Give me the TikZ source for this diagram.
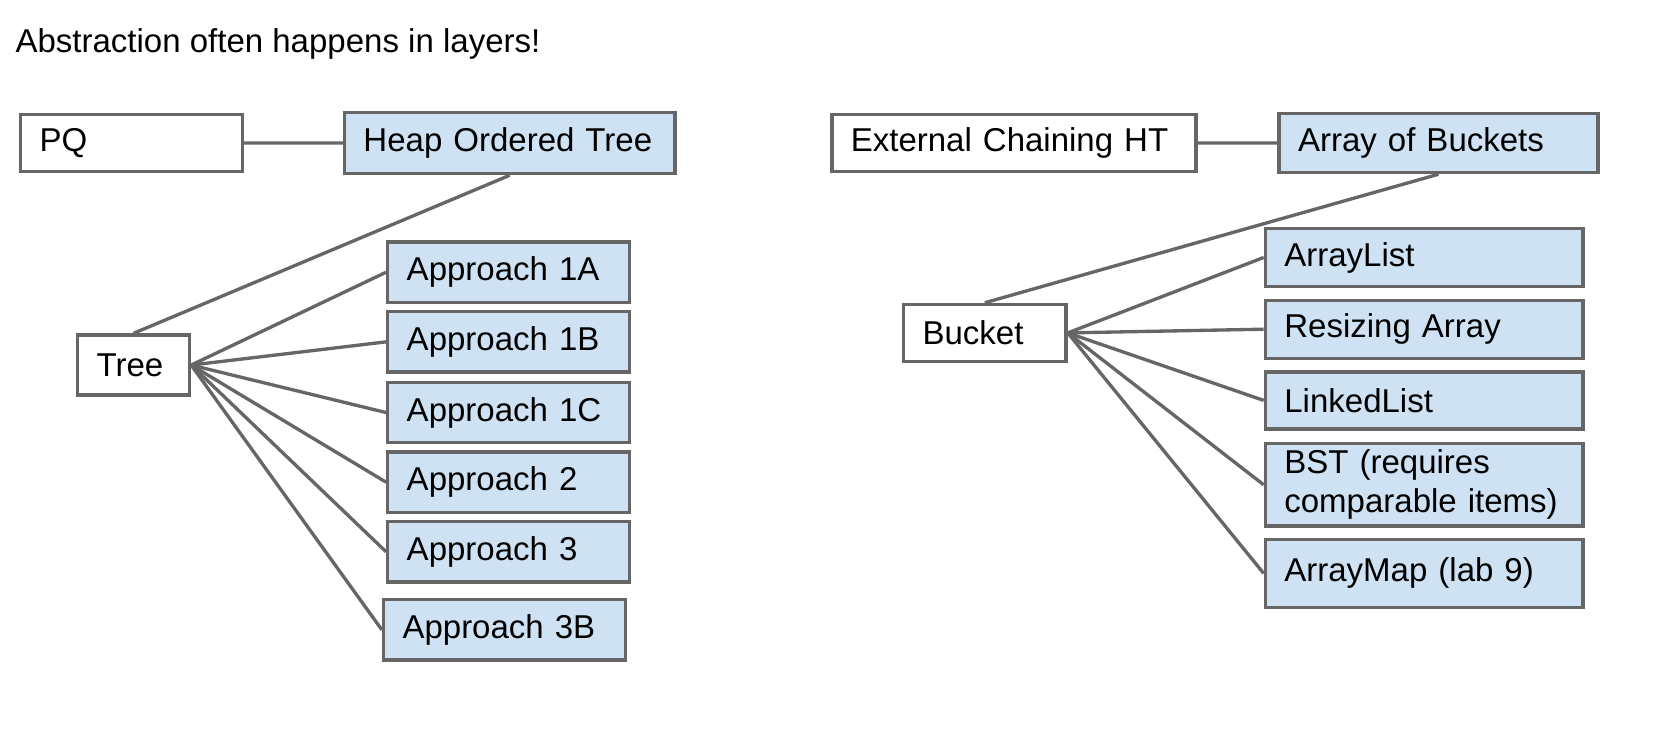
\documentclass[tikz,border=0pt]{standalone}
\usepackage{fontspec}
\setmainfont{Liberation Sans}
\usepackage{tikz}
\definecolor{boxline}{HTML}{666666}
\definecolor{implfill}{HTML}{CFE2F3}

\begin{document}
\begin{tikzpicture}[x=0.01cm, y=-0.01cm,
		adtbox/.style={draw=boxline, line width=0.9pt, fill=white, anchor=north west,
			inner xsep=0.18cm, inner ysep=0pt, align=left,
			font=\fontsize{8.9}{10.5}\selectfont},
		implbox/.style={adtbox, fill=implfill},
		link/.style={draw=boxline, line width=0.9pt}]
		\useasboundingbox (0,0) rectangle (1568,707);

		% Title
		\node[anchor=base west, inner sep=0pt, font=\fontsize{8.9}{10.5}\selectfont] (title) at (14,50) {Abstraction often happens in layers!};

		% Priority queue side
		\node[adtbox, text width=1.74cm, minimum height=0.54cm] (pq) at (18,107) {PQ};
		\node[implbox, text width=2.77cm, minimum height=0.58cm] (hot) at (325,105) {Heap Ordered Tree};
		\node[adtbox, text width=0.70cm, minimum height=0.57cm] (tree) at (72,316) {Tree};

		\node[implbox, text width=1.93cm, minimum height=0.57cm] (a1a) at (366,228) {Approach 1A};
		\node[implbox, text width=1.93cm, minimum height=0.57cm] (a1b) at (366,294) {Approach 1B};
		\node[implbox, text width=1.93cm, minimum height=0.57cm] (a1c) at (366,361) {Approach 1C};
		\node[implbox, text width=1.93cm, minimum height=0.57cm] (a2) at (366,427) {Approach 2};
		\node[implbox, text width=1.93cm, minimum height=0.57cm] (a3) at (366,493) {Approach 3};
		\node[implbox, text width=1.93cm, minimum height=0.57cm] (a3b) at (362,567) {Approach 3B};

		% Hash table side
		\node[adtbox, text width=3.09cm, minimum height=0.54cm] (echt) at (787,107) {External Chaining HT};
		\node[implbox, text width=2.66cm, minimum height=0.56cm] (aob) at (1211,106) {Array of Buckets};
		\node[adtbox, text width=1.18cm, minimum height=0.54cm] (bucket) at (855,287) {Bucket};

		\node[implbox, text width=2.65cm, minimum height=0.55cm] (alist) at (1198,215) {ArrayList};
		\node[implbox, text width=2.65cm, minimum height=0.55cm] (rarray) at (1198,283) {Resizing Array};
		\node[implbox, text width=2.65cm, minimum height=0.54cm] (llist) at (1198,351) {LinkedList};
		\node[implbox, text width=2.65cm, minimum height=0.78cm] (bst) at (1198,419) {BST (requires\\comparable items)};
		\node[implbox, text width=2.65cm, minimum height=0.64cm] (amap) at (1198,510) {ArrayMap (lab 9)};

		% Connectors
		\draw[link] (pq) -- (hot);
		\draw[link] (hot.south) -- (tree.north);
		\foreach \impl in {a1a, a1b, a1c, a2, a3, a3b}
			\draw[link] (tree.east) -- (\impl.west);

		\draw[link] (echt) -- (aob);
		\draw[link] (aob.south) -- (bucket.north);
		\foreach \impl in {alist, rarray, llist, bst, amap}
			\draw[link] (bucket.east) -- (\impl.west);
	\end{tikzpicture}
\end{document}
